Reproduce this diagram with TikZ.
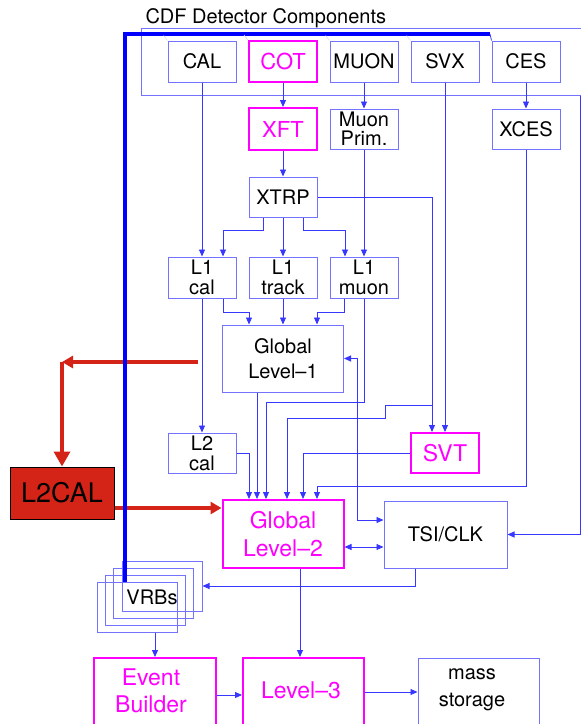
\documentclass[tikz,border=0pt]{standalone}
\usepackage{fontspec}
\setmainfont{TeX Gyre Heros}
\usetikzlibrary{arrows.meta}
\definecolor{linkblue}{RGB}{55,55,255}
\definecolor{boxblue}{RGB}{115,115,255}
\definecolor{busblue}{RGB}{0,0,255}
\definecolor{trigpink}{RGB}{255,0,255}
\definecolor{l2red}{RGB}{212,36,24}
\newcommand{\setfs}[2]{\fontsize{#1}{#2}\selectfont}

\begin{document}
\begin{tikzpicture}[x=1pt,y=-1pt,
  det/.style ={draw=boxblue,line width=1pt,minimum width=68,minimum height=41,
               inner sep=0pt,align=center,font=\setfs{20}{20}},
  trig/.style={draw=trigpink,line width=2pt,text=trigpink,minimum width=68,
               minimum height=41,inner sep=0pt,align=center,font=\setfs{22}{27}},
  trigtext/.style={text=trigpink,align=center,font=\setfs{23}{27}},
  vrbbox/.style={draw=boxblue,line width=1pt,minimum width=80,minimum height=50,inner sep=0pt},
  arr/.style ={-{Triangle[length=7pt,width=6pt]},linkblue,line width=0.9pt},
  dbl/.style ={{Triangle[length=7pt,width=6pt]}-{Triangle[length=7pt,width=6pt]},linkblue,line width=0.9pt},
  bus/.style ={busblue,line width=4.5pt},
  redarr/.style={-{Triangle[length=11pt,width=12pt]},l2red,line width=3.5pt},
  redbig/.style={-{Triangle[length=15pt,width=16pt]},l2red,line width=3.5pt},
]
\useasboundingbox (0,0) rectangle (581,724);
\clip (0,0) rectangle (581,724);

% detector frame
\node[anchor=base west,font=\setfs{20}{20}] (title) at (142,23) {CDF Detector Components};
\node[vrbbox,minimum width=443,minimum height=67] (detframe) at (362.5,61.5) {};

\node[det]  (cal)  at (202,61.5) {CAL};
\node[trig] (cot)  at (283,61.5) {COT};
\node[det]  (muon) at (364,61.5) {MUON};
\node[det]  (svx)  at (445,61.5) {SVX};
\node[det]  (ces)  at (526,61.5) {CES};

\node[trig,minimum height=42] (xft) at (283,129) {XFT};
\node[det,minimum height=40] (muonprim) at (364,129) {Muon\\[-1pt]Prim.};
\node[det,minimum height=40] (xces) at (526,129) {XCES};
\node[det,minimum height=40] (xtrp) at (283,197) {XTRP};

\node[det] (l1cal)   at (202,277.5) {L1\\cal};
\node[det] (l1track) at (283,277.5) {L1\\track};
\node[det] (l1muon)  at (364,277.5) {L1\\muon};

\node[det,minimum width=121,minimum height=67] (gl1) at (283,358.5) {Global\\[5pt]Level–1};
\node[det,minimum height=40] (l2cal) at (202,453) {L2\\cal};
\node[trig,minimum height=40,font=\setfs{23}{27}] (svt) at (445,453) {SVT};

\node[trig,minimum width=121,minimum height=68,font=\setfs{23}{28}] (gl2) at (283,534) {Global\\Level–2};
\node[det,minimum width=123,minimum height=67] (tsi) at (445.5,534.5) {TSI/CLK};

% VRB crates
\foreach \n/\x/\y in {a/162/586, b/153/593, c/145/600, d/137/607}
  \node[vrbbox] (vrb\n) at (\x,\y) {};
\node[font=\setfs{20}{20}] (vrbs) at (152,597) {VRBs};

\node[trig,minimum width=122,minimum height=82,
  label={[trigtext,xshift=-4,yshift=8]center:Event\\Builder}] (eb) at (155,699) {};
\node[trig,minimum width=121,minimum height=82,
  label={[trigtext,xshift=-2.5,yshift=9]center:Level–3}] (l3) at (303.5,699) {};
\node[det,minimum width=121,minimum height=82,
  label={[align=center,font=\setfs{20}{27},xshift=-6.5,yshift=9]center:mass\\storage}] (ms) at (478.5,699) {};

\node[draw=black,line width=1pt,fill=l2red,minimum width=104,minimum height=52,
  font=\setfs{27}{27}] (l2calbox) at (62,493) {L2CAL};

% level-1 paths
\draw[arr] (cot.south) -- (xft.north);
\draw[arr] (muon.south) -- (muonprim.north);
\draw[arr] (ces.south) -- (xces.north);
\draw[arr] (xft.south) -- (xtrp.north);
\draw[arr] (cal.south) -- (l1cal.north);
\draw[arr] ([xshift=-20]xtrp.south) -- ++(0,13) -| ([xshift=21]l1cal.north);
\draw[arr] (xtrp.south) -- (l1track.north);
\draw[arr] ([xshift=20]xtrp.south) -- ++(0,13) -| ([xshift=-19]l1muon.north);
\draw[arr] (muonprim.south) -- (l1muon.north);
\draw[arr] ([xshift=21]l1cal.south) -- ++(0,14) -| ([xshift=-34]gl1.north);
\draw[arr] (l1track.south) -- (gl1.north);
\draw[arr] ([xshift=-20]l1muon.south) -- ++(0,14) -| ([xshift=34]gl1.north);

% level-2 paths
\draw[arr] (xtrp.east) -| ([xshift=-13]svt.north);
\draw[arr] (svx.south) -- (svt.north);
\draw[arr] (l1cal.south) -- (l2cal.north);
\draw[arr] (l2cal.east) -| ([xshift=-34]gl2.north);
\draw[arr] ([xshift=-26]gl1.south) -- ([xshift=-26]gl2.north);
\draw[arr] (l1muon.south) -- ++(0,104) -| ([xshift=-17]gl2.north);
\draw[arr] ([xshift=-13,yshift=27]svt.north) -- ++(-47,0) -- ++(0,13) -| ([xshift=4]gl2.north);
\draw[arr] (svt.west) -| ([xshift=20]gl2.north);
\draw[arr] (xces.south) -- ++(0,337) -| ([xshift=34]gl2.north);
\draw[dbl] (gl1.east) -- ++(13,0) |- ([yshift=14.5]tsi.west);
\draw[dbl] ([yshift=-13]gl2.east) -- ([yshift=-13]gl2.east -| tsi.west);
\draw[arr] ([xshift=-4]detframe.south east) |- (tsi.east);

% readout
\draw[arr] ([xshift=-30.5]tsi.south) |- (vrba.east);
\draw[arr] (vrbd.south -| eb.north) -- (eb.north);
\draw[arr] ([xshift=17]gl2.south) -- ([xshift=17]gl2.south |- l3.north);
\draw[arr] ([yshift=4]eb.east) -- ([yshift=4]eb.east -| l3.west);
\draw[arr] ([yshift=7]l3.east) -- ([yshift=7]l3.east -| ms.west);

% L2CAL upgrade
\coordinate (l1tap) at (198,362);
\coordinate (redbend) at (62,362);
\draw[redarr] (l1tap) -- (redbend);
\draw[redbig] (redbend) -- (l2calbox.north);
\draw[redarr] ([yshift=-15]l2calbox.east) -- ([yshift=-15]l2calbox.east -| gl2.west);

% readout bus
\coordinate (busend) at (490,34);
\draw[bus] ([xshift=-12]vrbd.north) |- (busend);
\draw[linkblue,line width=0.8pt] (busend) -- (ces.north west);
\foreach \b in {cal,cot,muon,svx}
  \draw[linkblue!20,line width=0.6pt] ([xshift=-4,yshift=5]\b.north west) -- (\b.north west);
\end{tikzpicture}
\end{document}
